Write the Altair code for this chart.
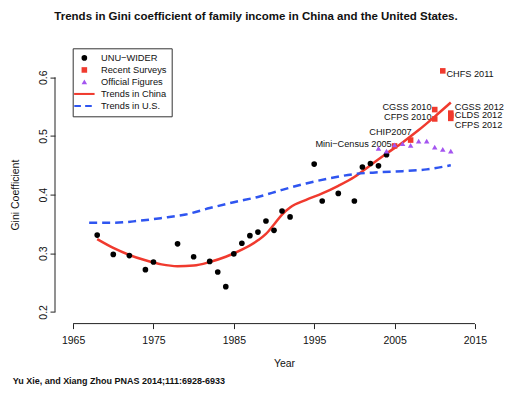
import altair as alt
import pandas as pd

# ---------------- data ----------------
wider_years = [1968, 1970, 1972, 1974, 1975, 1978, 1980, 1982, 1983, 1984, 1985, 1986, 1987,
               1988, 1989, 1990, 1991, 1992, 1995, 1996, 1998, 2000, 2001, 2002, 2003, 2004]
wider_vals = [0.331, 0.298, 0.296, 0.272, 0.285, 0.316, 0.294, 0.286, 0.268, 0.243, 0.299, 0.317, 0.330,
              0.336, 0.355, 0.339, 0.372, 0.362, 0.452, 0.389, 0.402, 0.389, 0.447, 0.453, 0.449, 0.468]

survey_names = ["CHFS 2011", "CGSS 2010", "CFPS 2010", "CGSS 2012", "CLDS 2012", "CFPS 2012",
                "CHIP2007", "Mini\u2212Census 2005"]
survey_years = [2011, 2010, 2010, 2012, 2012, 2012, 2007, 2005]
survey_vals = [0.611, 0.545, 0.529, 0.539, 0.535, 0.530, 0.493, 0.483]

official_years = [2003, 2004, 2005, 2006, 2007, 2008, 2009, 2010, 2011, 2012]
official_vals = [0.479, 0.474, 0.485, 0.487, 0.484, 0.491, 0.491, 0.481, 0.477, 0.474]

china_years = [1968, 1970, 1972, 1974, 1976, 1978, 1980, 1982, 1984, 1986, 1988, 1989, 1990,
               1991, 1992, 1994, 1996, 1998, 2000, 2002, 2004, 2006, 2008, 2010, 2012]
china_vals = [0.324, 0.309, 0.297, 0.288, 0.281, 0.278, 0.279, 0.285, 0.294, 0.306, 0.322, 0.333, 0.349,
              0.366, 0.378, 0.391, 0.402, 0.415, 0.430, 0.450, 0.470, 0.489, 0.510, 0.533, 0.557]

us_years = [1967, 1970, 1973, 1976, 1979, 1982, 1985, 1988, 1991, 1994, 1997, 2000, 2003, 2006, 2009, 2012]
us_vals = [0.352, 0.352, 0.355, 0.360, 0.366, 0.377, 0.387, 0.396, 0.408, 0.419, 0.428, 0.435, 0.438,
           0.440, 0.443, 0.450]

# label anchors (data coordinates) and alignment for the survey annotations
label_years = [2011.45, 2009.6, 2009.6, 2012.5, 2012.5, 2012.5, 2004.5, 2004.65]
label_vals = [0.606, 0.550, 0.533, 0.550, 0.535, 0.519, 0.506, 0.486]
label_align = ["left", "right", "right", "left", "left", "left", "center", "right"]

series_names = ["UNU\u2212WIDER", "Recent Surveys", "Official Figures", "Trends in China", "Trends in U.S."]
x_ticks = [1965, 1975, 1985, 1995, 2005, 2015]
y_ticks = [0.2, 0.3, 0.4, 0.5, 0.6]

title_text = "Trends in Gini coefficient of family income in China and the United States."
credit_text = "Yu Xie, and Xiang Zhou PNAS 2014;111:6928-6933"

# ---------------- styling ----------------
RED = "#f03a2e"
BLUE = "#2f55f0"
PURPLE = "#a455f0"
FONT = "Liberation Sans"
series_colors = ["#000000", RED, PURPLE, RED, BLUE]
series_sizes = [32, 28, 60, 30, 30]
line_path = "M-3.8,-0.38H3.8V0.38H-3.8Z"
dash_path = "M-3.8,-0.38H-1.3V0.38H-3.8Z M0.3,-0.38H2.8V0.38H0.3Z"
series_shapes = ["circle", "square", "triangle-up", line_path, dash_path]

W, H = 438, 258
xs = alt.Scale(domain=[1962.75, 2017.25], nice=False, zero=False)
ys = alt.Scale(domain=[0.18, 0.62], nice=False, zero=False)

xaxis = alt.Axis(values=x_ticks, format="d", domain=False, grid=False, tickSize=5,
                 tickColor="#222", labelFontSize=10.5, labelPadding=6.5, labelColor="#111",
                 title="Year", titleFontSize=10.5, titleFontWeight="normal", titleColor="#111",
                 titlePadding=13, titleX=229, titleAlign="center",
                 labelFont=FONT, titleFont=FONT, labelFlush=False)
yaxis = alt.Axis(values=y_ticks, format=".1f", domain=False, grid=False, tickSize=5,
                 tickColor="#222", labelFontSize=10.5, labelPadding=2, labelColor="#111",
                 labelAngle=270, labelAlign="center", labelBaseline="bottom",
                 title="Gini Coefficient", titleFontSize=10.5, titleFontWeight="normal",
                 titleColor="#111", titlePadding=18, labelFont=FONT, titleFont=FONT, labelFlush=False)

# ---------------- tables ----------------
points = pd.concat([
    pd.DataFrame({"year": wider_years, "gini": wider_vals, "series": series_names[0]}),
    pd.DataFrame({"year": survey_years, "gini": survey_vals, "series": series_names[1]}),
    pd.DataFrame({"year": official_years, "gini": official_vals, "series": series_names[2]}),
], ignore_index=True)
china = pd.DataFrame({"year": china_years, "gini": china_vals})
us = pd.DataFrame({"year": us_years, "gini": us_vals})
labels = pd.DataFrame({"year": label_years, "gini": label_vals, "name": survey_names, "align": label_align})
xline = pd.DataFrame({"year": [x_ticks[0]], "year2": [x_ticks[-1]]})
yline = pd.DataFrame({"gini": [y_ticks[0]], "gini2": [y_ticks[-1]]})

legend = alt.Legend(orient="none", legendX=17.7, legendY=-17.3, title=None,
                    fillColor="white", strokeColor="#333",
                    padding=5, symbolSize=22, symbolStrokeWidth=0, labelFontSize=9.3,
                    labelFont=FONT, labelColor="#111", rowPadding=2, labelOffset=12,
                    symbolOffset=2)

X = alt.X("year:Q", scale=xs, axis=xaxis)
Y = alt.Y("gini:Q", scale=ys, axis=yaxis)

china_line = alt.Chart(china).mark_line(color=RED, strokeWidth=2.5, interpolate="monotone").encode(x=X, y=Y)
us_line = alt.Chart(us).mark_line(color=BLUE, strokeWidth=2.5, strokeDash=[8, 5],
                                  interpolate="monotone").encode(x=X, y=Y)

pts = alt.Chart(points).mark_point(filled=True, opacity=1).encode(
    x=X, y=Y,
    color=alt.Color("series:N", scale=alt.Scale(domain=series_names, range=series_colors), legend=legend),
    shape=alt.Shape("series:N", scale=alt.Scale(domain=series_names, range=series_shapes), legend=legend),
    size=alt.Size("series:N", scale=alt.Scale(domain=series_names, range=series_sizes), legend=None),
)

def lab_layer(al):
    return alt.Chart(labels).transform_filter(alt.datum.align == al).mark_text(
        align=al, baseline="middle", fontSize=9.2, font=FONT, color="#111"
    ).encode(x=X, y=Y, text="name:N")

x_rule = alt.Chart(xline).mark_rule(color="#222", strokeWidth=1).encode(
    x=X, x2="year2:Q", y=alt.value(H))
y_rule = alt.Chart(yline).mark_rule(color="#222", strokeWidth=1).encode(
    y=Y, y2="gini2:Q", x=alt.value(0))

credit = alt.Chart(pd.DataFrame({"t": [credit_text]})).mark_text(
    align="left", baseline="middle", fontSize=9, fontWeight="bold", font=FONT, color="#111"
).encode(x=alt.value(-42.3), y=alt.value(315), text="t:N")

chart = alt.layer(
    x_rule, y_rule, lab_layer("left"), lab_layer("right"), lab_layer("center"),
    china_line, us_line, pts, credit
).properties(
    width=W, height=H,
    title=alt.Title(title_text, fontSize=11.5, fontWeight="bold", font=FONT, color="#111",
                    anchor="middle", frame="group", offset=25, dx=-18),
    padding={"left": 47, "top": 57.6, "right": 19, "bottom": 62},
    autosize=alt.AutoSizeParams(type="none"),
).configure_view(stroke=None)

chart.save("out.html", embed_options={"renderer": "svg", "actions": False})
